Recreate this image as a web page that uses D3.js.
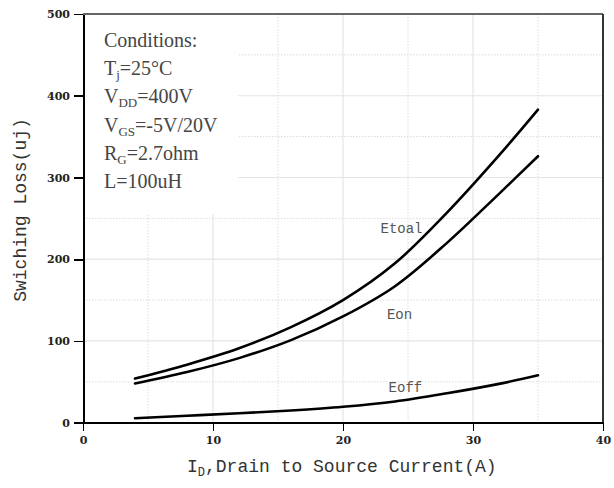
<!DOCTYPE html>
<html lang="en">
<head>
<meta charset="UTF-8">
<title>Switching Loss vs Drain Current</title>
<script src="https://d3js.org/d3.v7.min.js"></script>
<style>
  body { margin: 0; background: #fff; }
  .axis path, .axis line { stroke: #000; shape-rendering: crispEdges; }
  .axis text { font-family: "DejaVu Serif", serif; font-weight: bold; font-size: 11px; fill: #222; }
  .title { font-family: "Liberation Mono", monospace; font-size: 18px; fill: #333; }
  .lbl { font-family: "Liberation Mono", monospace; font-size: 14px; fill: #555; }
  .cond { font-family: "Liberation Serif", serif; font-size: 20px; fill: #454545; }
</style>
</head>
<body>
<svg width="614" height="488"></svg>
<script>
// data
const current = [4, 8, 12, 16, 20, 24, 28, 32, 35];
const etotal  = [54, 71, 91, 117, 150, 195, 257, 327, 383];
const eon     = [48, 62, 79, 101, 130, 167, 220, 280, 326];
const eoff    = [5.5, 8.5, 11.5, 15, 19.5, 26, 36, 47.5, 58];
const xTicks = [0, 10, 20, 30, 40];
const yTicks = [0, 100, 200, 300, 400, 500];
const labels = [
  {text: "Etoal", x: 24.5, y: 238},
  {text: "Eon", x: 24.35, y: 133},
  {text: "Eoff", x: 24.8, y: 44}
];

const svg = d3.select("svg");
const margin = {top: 14, left: 83, right: 11, bottom: 65.3};
const width = 614 - margin.left - margin.right;
const height = 488 - margin.top - margin.bottom;
const g = svg.append("g").attr("transform", `translate(${margin.left},${margin.top})`);

const x = d3.scaleLinear().domain([0, 40]).range([0, width]);
const y = d3.scaleLinear().domain([0, 500]).range([height, 0]);

// grid
const major = "#e4e4e4", minor = "#dcdcdc";
g.selectAll(".vmaj").data([10, 20, 30]).enter().append("line")
  .attr("x1", d => x(d)).attr("x2", d => x(d)).attr("y1", 0).attr("y2", height)
  .attr("stroke", major).attr("stroke-width", 1.2);
g.selectAll(".vmin").data([5, 15, 25, 35]).enter().append("line")
  .attr("x1", d => x(d)).attr("x2", d => x(d)).attr("y1", 0).attr("y2", height)
  .attr("stroke", minor).attr("stroke-dasharray", "1.5,1.5");
g.selectAll(".hmaj").data([100, 200, 300, 400]).enter().append("line")
  .attr("y1", d => y(d)).attr("y2", d => y(d)).attr("x1", 0).attr("x2", width)
  .attr("stroke", major).attr("stroke-width", 1.2);
g.selectAll(".hmin").data([50, 150, 250, 350, 450]).enter().append("line")
  .attr("y1", d => y(d)).attr("y2", d => y(d)).attr("x1", 0).attr("x2", width)
  .attr("stroke", minor).attr("stroke-dasharray", "1.5,1.5");

// white box behind the conditions text
g.append("rect").attr("x", 1).attr("y", 0).attr("width", 154).attr("height", 200).attr("fill", "#fff");

// frame top/right
g.append("line").attr("x1", 0).attr("x2", width).attr("y1", 0).attr("y2", 0)
  .attr("stroke", "#333").attr("stroke-width", 1.6);
g.append("line").attr("x1", width).attr("x2", width).attr("y1", 0).attr("y2", height)
  .attr("stroke", "#333").attr("stroke-width", 2);

// axes
const xAxis = g.append("g").attr("class", "axis").attr("transform", `translate(0,${height})`)
  .call(d3.axisBottom(x).tickValues(xTicks).tickSize(8).tickPadding(6).tickSizeOuter(0));
const yAxis = g.append("g").attr("class", "axis")
  .call(d3.axisLeft(y).tickValues(yTicks).tickSize(9).tickPadding(4).tickSizeOuter(0));
xAxis.select(".domain").attr("stroke-width", 2);
yAxis.select(".domain").attr("stroke-width", 2);
g.selectAll(".axis .tick line").attr("stroke-width", 1.6);

// curves
const line = d3.line().x((d, i) => x(current[i])).y(d => y(d)).curve(d3.curveCatmullRom.alpha(0.5));
[etotal, eon, eoff].forEach(s => {
  g.append("path").datum(s).attr("d", line).attr("fill", "none")
    .attr("stroke", "#000").attr("stroke-width", 2.6).attr("stroke-linecap", "round");
});

g.selectAll(".lbl").data(labels).enter().append("text").attr("class", "lbl")
  .attr("x", d => x(d.x)).attr("y", d => y(d.y)).attr("dy", "0.35em")
  .attr("text-anchor", "middle").text(d => d.text);

// conditions text
const cond = [
  [["Conditions:", 0]],
  [["T", 0], ["j", 1], ["=25°C", 0]],
  [["V", 0], ["DD", 1], ["=400V", 0]],
  [["V", 0], ["GS", 1], ["=-5V/20V", 0]],
  [["R", 0], ["G", 1], ["=2.7ohm", 0]],
  [["L=100uH", 0]]
];
cond.forEach((parts, i) => {
  const t = svg.append("text").attr("class", "cond").attr("x", 104).attr("y", 46.7 + i * 28.3);
  parts.forEach(([s, sub]) => {
    const ts = t.append("tspan").text(s);
    if (sub) ts.attr("font-size", 13).attr("dy", 4);
    else if (t.selectAll("tspan").size() > 1) ts.attr("dy", -4);
  });
});

// axis titles
const xt = svg.append("text").attr("class", "title").attr("x", 187).attr("y", 472);
xt.append("tspan").text("I");
xt.append("tspan").text("D").attr("font-size", 12).attr("dy", 4);
xt.append("tspan").text(",Drain to Source Current(A)").attr("dy", -4);

svg.append("text").attr("class", "title")
  .attr("transform", "translate(26,210) rotate(-90)")
  .attr("text-anchor", "middle").text("Swiching Loss(uj)");
</script>
</body>
</html>
